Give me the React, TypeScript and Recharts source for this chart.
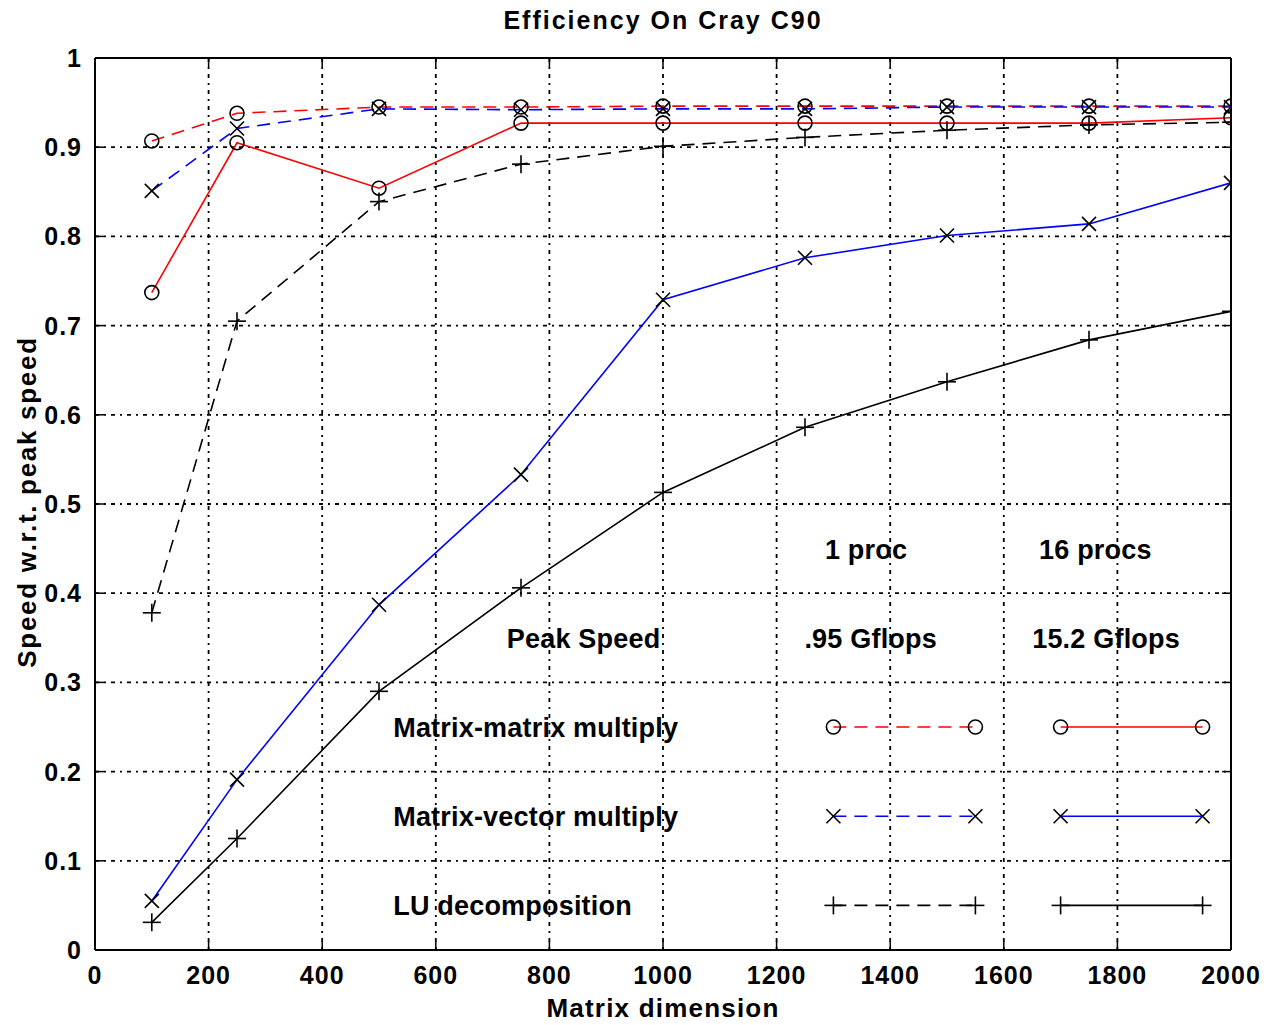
import React from 'react';
import { LineChart, Line, XAxis, YAxis, CartesianGrid, ReferenceDot } from 'recharts';

const dims = [100, 250, 500, 750, 1000, 1250, 1500, 1750, 2000];
const mmOne = [0.907, 0.938, 0.945, 0.945, 0.946, 0.946, 0.946, 0.946, 0.946];
const mmSixteen = [0.737, 0.905, 0.854, 0.927, 0.927, 0.927, 0.927, 0.927, 0.933];
const mvOne = [0.851, 0.921, 0.943, 0.942, 0.943, 0.943, 0.945, 0.945, 0.945];
const mvSixteen = [0.055, 0.191, 0.387, 0.533, 0.729, 0.776, 0.801, 0.814, 0.860];
const luOne = [0.378, 0.705, 0.839, 0.881, 0.901, 0.911, 0.919, 0.925, 0.928];
const luSixteen = [0.031, 0.125, 0.290, 0.406, 0.513, 0.586, 0.637, 0.684, 0.716];

const xTicks = [0, 200, 400, 600, 800, 1000, 1200, 1400, 1600, 1800, 2000];
const yTicks = [0, 0.1, 0.2, 0.3, 0.4, 0.5, 0.6, 0.7, 0.8, 0.9, 1];

const legendRows = [
  { label: 'Matrix-matrix multiply', y: 0.25, color: '#ff0000', marker: 'circle' },
  { label: 'Matrix-vector multiply', y: 0.15, color: '#0000ff', marker: 'cross' },
  { label: 'LU decomposition', y: 0.05, color: '#000000', marker: 'plus' },
];
const legendOneX = [1300, 1550];
const legendSixteenX = [1700, 1950];
const legendHeader = [
  { text: '1 proc', x: 1285, y: 0.45, anchor: 'start' },
  { text: '16 procs', x: 1662, y: 0.45, anchor: 'start' },
  { text: 'Peak Speed', x: 725, y: 0.35, anchor: 'start' },
  { text: '.95 Gflops', x: 1249, y: 0.35, anchor: 'start' },
  { text: '15.2 Gflops', x: 1650, y: 0.35, anchor: 'start' },
];
const rowLabelX = 525;

const build = (vals: number[]) => dims.map((d, i) => ({ x: d, y: vals[i] }));

const FONT = '"Liberation Sans", Arial, sans-serif';

const Marker = (kind: string) => (props: any) => {
  const { cx, cy } = props;
  if (cx == null || cy == null) return <g />;
  const s = 'black';
  if (kind === 'circle') {
    return <circle cx={cx} cy={cy} r={7} fill="none" stroke={s} strokeWidth={1.6} />;
  }
  if (kind === 'cross') {
    const d = 7;
    return (
      <g stroke={s} strokeWidth={1.6}>
        <line x1={cx - d} y1={cy - d} x2={cx + d} y2={cy + d} />
        <line x1={cx - d} y1={cy + d} x2={cx + d} y2={cy - d} />
      </g>
    );
  }
  const d = 9;
  return (
    <g stroke={s} strokeWidth={1.6}>
      <line x1={cx - d} y1={cy} x2={cx + d} y2={cy} />
      <line x1={cx} y1={cy - d} x2={cx} y2={cy + d} />
    </g>
  );
};

const TICK = 9;

const BottomTick = (p: any) => {
  const { x, y, payload } = p;
  return (
    <g>
      <line x1={x} y1={y} x2={x} y2={y - TICK} stroke="black" strokeWidth={1.5} />
      <text x={x} y={y + 34} textAnchor="middle" fontFamily={FONT} fontWeight="bold" fontSize={25} letterSpacing={1} fill="black">
        {payload.value}
      </text>
    </g>
  );
};
const TopTick = (p: any) => {
  const { x, y } = p;
  return <line x1={x} y1={y} x2={x} y2={y + TICK} stroke="black" strokeWidth={1.5} />;
};
const LeftTick = (p: any) => {
  const { x, y, payload } = p;
  return (
    <g>
      <line x1={x} y1={y} x2={x + TICK} y2={y} stroke="black" strokeWidth={1.5} />
      <text x={x - 13} y={y + 9} textAnchor="end" fontFamily={FONT} fontWeight="bold" fontSize={25} letterSpacing={1} fill="black">
        {payload.value}
      </text>
    </g>
  );
};
const RightTick = (p: any) => {
  const { x, y } = p;
  return <line x1={x} y1={y} x2={x - TICK} y2={y} stroke="black" strokeWidth={1.5} />;
};

const TextShape = (text: string, anchor: string) => (props: any) => {
  const { cx, cy } = props;
  return (
    <text x={cx} y={cy + 10} textAnchor={anchor} fontFamily={FONT} fontWeight="bold" fontSize={27} letterSpacing={0.2} fill="black">
      {text}
    </text>
  );
};

export default function App() {
  const series = [
    { key: 'mmOne', data: build(mmOne), color: '#ff0000', dash: '13 8', marker: 'circle' },
    { key: 'mvOne', data: build(mvOne), color: '#0000ff', dash: '13 8', marker: 'cross' },
    { key: 'luOne', data: build(luOne), color: '#000000', dash: '13 8', marker: 'plus' },
    { key: 'mmSixteen', data: build(mmSixteen), color: '#ff0000', dash: undefined, marker: 'circle' },
    { key: 'mvSixteen', data: build(mvSixteen), color: '#0000ff', dash: undefined, marker: 'cross' },
    { key: 'luSixteen', data: build(luSixteen), color: '#000000', dash: undefined, marker: 'plus' },
  ];

  return (
    <div style={{ position: 'absolute', left: 0, top: 0, width: 1266, height: 1025, background: 'white' }}>
      <div
        style={{
          position: 'absolute',
          left: 0,
          width: 1266,
          top: 6,
          textAlign: 'center',
          fontFamily: FONT,
          fontWeight: 'bold',
          fontSize: 25,
          letterSpacing: 2,
          paddingLeft: 60,
          boxSizing: 'border-box',
        }}
      >
        Efficiency On Cray C90
      </div>
      <div
        style={{
          position: 'absolute',
          left: 27,
          top: 502,
          transform: 'translate(-50%, -50%) rotate(-90deg)',
          whiteSpace: 'nowrap',
          fontFamily: FONT,
          fontWeight: 'bold',
          fontSize: 26,
          letterSpacing: 1.7,
        }}
      >
        Speed w.r.t. peak speed
      </div>
      <div
        style={{
          position: 'absolute',
          left: 0,
          width: 1266,
          top: 993,
          textAlign: 'center',
          fontFamily: FONT,
          fontWeight: 'bold',
          fontSize: 26,
          letterSpacing: 1.2,
          paddingLeft: 60,
          boxSizing: 'border-box',
        }}
      >
        Matrix dimension
      </div>
      <LineChart
        width={1266}
        height={1025}
        margin={{ top: 57, right: 34, bottom: 15, left: 15 }}
        style={{ position: 'absolute', left: 0, top: 0 }}
      >
        <CartesianGrid xAxisId="b" yAxisId="l" stroke="black" strokeWidth={1.8} strokeDasharray="4 5 2 5" />
        <XAxis
          xAxisId="b"
          dataKey="x"
          type="number"
          domain={[0, 2000]}
          ticks={xTicks}
          tickSize={0}
          tickMargin={0}
          tickLine={false}
          height={60}
          tick={<BottomTick />}
          axisLine={{ stroke: 'black', strokeWidth: 2 }}
          allowDataOverflow
        />
        <XAxis
          xAxisId="t"
          orientation="top"
          dataKey="x"
          type="number"
          domain={[0, 2000]}
          ticks={xTicks}
          tickSize={0}
          tickMargin={0}
          tickLine={false}
          height={1}
          tick={<TopTick />}
          axisLine={{ stroke: 'black', strokeWidth: 2 }}
          allowDataOverflow
        />
        <YAxis
          yAxisId="l"
          type="number"
          domain={[0, 1]}
          ticks={yTicks}
          tickSize={0}
          tickMargin={0}
          tickLine={false}
          width={80}
          tick={<LeftTick />}
          axisLine={{ stroke: 'black', strokeWidth: 2 }}
          allowDataOverflow
        />
        <YAxis
          yAxisId="r"
          orientation="right"
          type="number"
          domain={[0, 1]}
          ticks={yTicks}
          tickSize={0}
          tickMargin={0}
          tickLine={false}
          width={1}
          tick={<RightTick />}
          axisLine={{ stroke: 'black', strokeWidth: 2 }}
          allowDataOverflow
        />
        <Line
          xAxisId="t"
          yAxisId="r"
          data={[{ x: 0, y: 0 }, { x: 2000, y: 1 }]}
          dataKey="y"
          stroke="none"
          dot={false}
          activeDot={false}
          isAnimationActive={false}
          legendType="none"
        />
        {series.map((s) => (
          <Line
            key={s.key}
            xAxisId="b"
            yAxisId="l"
            data={s.data}
            dataKey="y"
            type="linear"
            stroke={s.color}
            strokeWidth={1.6}
            strokeDasharray={s.dash}
            dot={Marker(s.marker)}
            activeDot={false}
            isAnimationActive={false}
          />
        ))}
        {legendRows.map((r) => (
          <Line
            key={'l1' + r.label}
            xAxisId="b"
            yAxisId="l"
            data={legendOneX.map((x) => ({ x, y: r.y }))}
            dataKey="y"
            stroke={r.color}
            strokeWidth={1.6}
            strokeDasharray="13 8"
            dot={Marker(r.marker)}
            activeDot={false}
            isAnimationActive={false}
          />
        ))}
        {legendRows.map((r) => (
          <Line
            key={'l16' + r.label}
            xAxisId="b"
            yAxisId="l"
            data={legendSixteenX.map((x) => ({ x, y: r.y }))}
            dataKey="y"
            stroke={r.color}
            strokeWidth={1.6}
            dot={Marker(r.marker)}
            activeDot={false}
            isAnimationActive={false}
          />
        ))}
        {legendRows.map((r) => (
          <ReferenceDot
            key={'t' + r.label}
            xAxisId="b"
            yAxisId="l"
            x={rowLabelX}
            y={r.y}
            r={0}
            shape={TextShape(r.label, 'start')}
          />
        ))}
        {legendHeader.map((h) => (
          <ReferenceDot
            key={'h' + h.text}
            xAxisId="b"
            yAxisId="l"
            x={h.x}
            y={h.y}
            r={0}
            shape={TextShape(h.text, h.anchor)}
          />
        ))}
      </LineChart>
    </div>
  );
}
